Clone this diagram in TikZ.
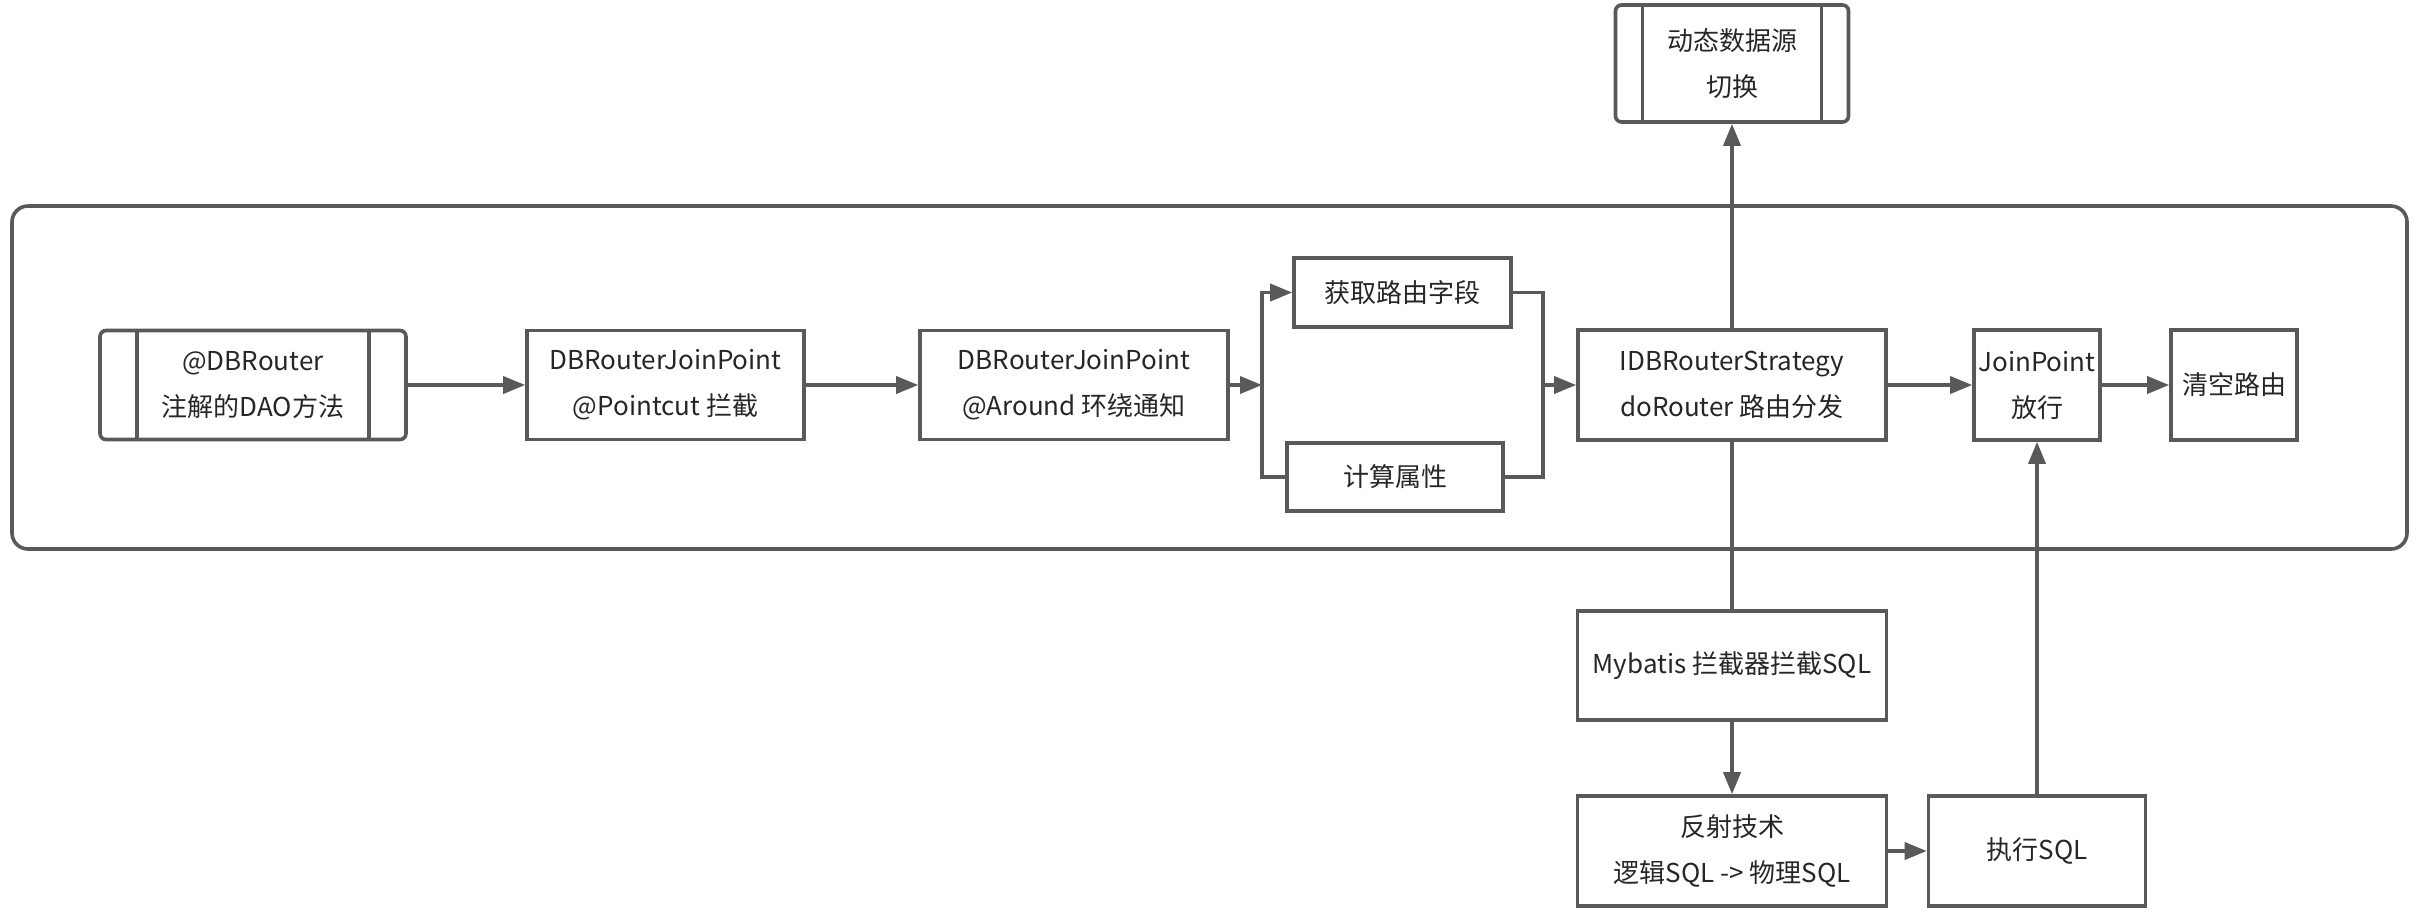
\documentclass[tikz,border=0pt]{standalone}
\usepackage{fontspec}
\setmainfont{Noto Sans CJK SC}
\usepackage{xcolor}
\usetikzlibrary{arrows.meta}
\definecolor{linegray}{RGB}{89,89,89}
\definecolor{textgray}{RGB}{38,38,38}
\begin{document}
\begin{tikzpicture}[x=0.5pt,y=-0.5pt,
line/.style={draw=linegray,line width=1.8pt},
arr/.style={line,-{Triangle[length=11pt,width=8.5pt]}},
box/.style={line,rectangle,inner sep=0pt,align=center,text=textgray,font=\fontsize{13pt}{23pt}\selectfont},
predef/.style={box,rounded corners=3pt,path picture={
\draw[line]([xshift=#1]path picture bounding box.north west)--([xshift=#1]path picture bounding box.south west);
\draw[line]([xshift=-#1]path picture bounding box.north east)--([xshift=-#1]path picture bounding box.south east);}}]
\useasboundingbox(0,0)rectangle(2424,912);
\draw[line,rounded corners=8pt](12,206)rectangle(2407,549);
\node[predef=18.5pt,minimum width=153pt,minimum height=54.5pt](dao)at(253,385){@DBRouter\\注解的DAO方法};
\node[box,minimum width=138.5pt,minimum height=54.5pt](cut)at(665.5,385){DBRouterJoinPoint\\@Pointcut 拦截};
\node[box,minimum width=154pt,minimum height=54.5pt](around)at(1074,385){DBRouterJoinPoint\\@Around 环绕通知};
\node[box,minimum width=108.5pt,minimum height=34.5pt](field)at(1402.5,292.5){获取路由字段};
\node[box,minimum width=108pt,minimum height=34pt](calc)at(1395,477){计算属性};
\node[box,minimum width=154pt,minimum height=55pt](strategy)at(1732,385){IDBRouterStrategy\\doRouter 路由分发};
\node[predef=13.5pt,minimum width=116.5pt,minimum height=58.5pt](source)at(1732,63.5){动态数据源\\切换};
\node[box,minimum width=63pt,minimum height=55pt](proceed)at(2037,385){JoinPoint\\放行};
\node[box,minimum width=63pt,minimum height=55pt](clear)at(2234,385){清空路由};
\node[box,minimum width=154.5pt,minimum height=54.5pt](mybatis)at(1732,665.5){Mybatis 拦截器拦截SQL};
\node[box,minimum width=154.5pt,minimum height=55pt](reflect)at(1732,851){反射技术\\逻辑SQL -> 物理SQL};
\node[box,minimum width=108.5pt,minimum height=55pt](exec)at(2037,851){执行SQL};
\coordinate(split)at(1262,385);
\coordinate(merge)at(1543,385);
\draw[arr](dao)--(cut);
\draw[arr](cut)--(around);
\draw[arr](around)--(split);
\draw[arr](split)|-(field);
\draw[line](split)|-(calc);
\draw[line](field)-|(merge);
\draw[line](calc)-|(merge);
\draw[arr](merge)--(strategy);
\draw[arr](strategy)--(source);
\draw[arr](strategy)--(proceed);
\draw[arr](proceed)--(clear);
\draw[line](strategy)--(mybatis);
\draw[arr](mybatis)--(reflect);
\draw[arr](reflect)--(exec);
\draw[arr](exec)--(proceed);
\end{tikzpicture}
\end{document}
